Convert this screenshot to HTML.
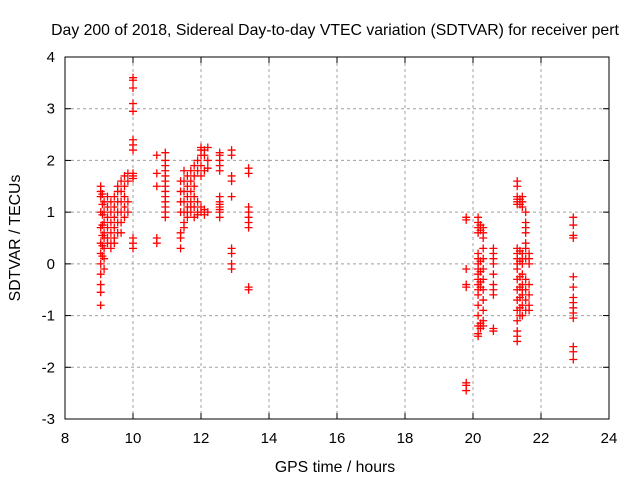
<!DOCTYPE html>
<html><head><meta charset="utf-8"><style>
body{margin:0;background:#fff;}
svg{display:block;font-family:"Liberation Sans",sans-serif;}
</style></head><body>
<svg id="chart" width="640" height="480">
<rect width="640" height="480" fill="#fff"/>
<text x="335" y="35" text-anchor="middle" font-size="15.8">Day 200 of 2018, Sidereal Day-to-day VTEC variation (SDTVAR) for receiver pert</text>
<text x="335" y="472" text-anchor="middle" font-size="15.8">GPS time / hours</text>
<text x="20" y="238" text-anchor="middle" font-size="15.8" transform="rotate(-90 20 238)">SDTVAR / TECUs</text>
<g id="grid"></g><g id="ticks"></g><g id="marks"></g>
<rect x="65" y="57" width="544" height="362" fill="none" stroke="#000"/>
</svg>
<script>
const xTicks=[8,10,12,14,16,18,20,22,24];
const yTicks=[-3,-2,-1,0,1,2,3,4];
const colHours=[9.05,9.1,9.15,9.25,9.35,9.45,9.55,9.65,9.75,9.85,10.0,10.7,10.95,11.4,11.5,11.6,11.7,11.8,11.9,12.0,12.1,12.2,12.55,12.9,13.4,19.8,20.15,20.22,20.3,20.6,21.3,21.38,21.45,21.55,21.65,22.95];
const colValues=[
[1.5,1.4,1.3,1.0,0.7,0.4,0.2,0.0,-0.2,-0.4,-0.55,-0.8],
[1.35,1.15,0.95,0.75,0.55,0.35,0.15],
[1.2,1.0,0.8,0.6,0.5,0.3,0.1,-0.1],
[1.3,1.1,0.9,0.7,0.5,0.4],
[1.2,1.0,0.8,0.6,0.4,0.3],
[1.3,1.1,0.9,0.7,0.5,0.4],
[1.5,1.4,1.2,1.0,0.8,0.6],
[1.6,1.4,1.2,1.0,0.8,0.6],
[1.7,1.5,1.3,1.1,0.9],
[1.75,1.6,1.2,1.0],
[3.6,3.55,3.4,3.1,2.95,2.4,2.3,2.2,1.75,1.7,1.65,0.5,0.4,0.3],
[2.1,1.75,1.5,0.5,0.4],
[2.15,2.0,1.9,1.8,1.7,1.6,1.5,1.4,1.3,1.2,1.1,1.0,0.9],
[1.6,1.4,1.2,1.0,0.6,0.5,0.3],
[1.8,1.6,1.4,1.2,1.0,0.8,0.7],
[1.7,1.5,1.3,1.1,0.9,1.0],
[1.8,1.6,1.4,1.2,1.0,1.1],
[1.9,1.7,1.5,1.3,1.1,0.9],
[2.0,1.8,1.2,1.0,0.95],
[2.25,2.2,2.1,1.9,1.7,1.1,1.0],
[2.2,2.1,1.8,1.05,0.95],
[2.25,2.0,1.85,1.0],
[2.15,2.1,2.0,1.9,1.8,1.3,1.2,1.15,1.1,1.05,1.0,0.9],
[2.2,2.1,1.7,1.6,1.3,0.3,0.2,0.0,-0.1],
[1.85,1.75,1.1,1.0,0.9,0.8,0.7,-0.45,-0.5],
[0.9,0.85,-0.1,-0.4,-0.45,-2.3,-2.35,-2.45],
[0.9,0.8,0.7,0.6,0.2,0.1,0.0,-0.1,-0.2,-0.3,-0.4,-0.5,-0.6,-0.8,-1.0,-1.2,-1.35,-1.4],
[0.75,0.65,0.05,-0.15,-0.35,-0.45,-1.15,-1.25],
[0.7,0.6,0.5,0.3,0.1,-0.1,-0.3,-0.5,-0.7,-0.9,-1.1,-1.2],
[0.3,0.2,0.1,0.0,-0.2,-0.4,-0.5,-0.6,-1.25,-1.3],
[1.6,1.5,1.3,1.25,1.2,1.15,0.3,0.2,0.1,0.0,-0.1,-0.3,-0.5,-0.7,-0.9,-1.1,-1.3,-1.4,-1.5],
[1.25,1.15,0.25,0.05,-0.25,-0.45,-0.65,-0.85,-1.0],
[1.3,1.2,1.1,0.2,0.1,0.0,-0.2,-0.4,-0.5,-0.6,-0.8,-1.0],
[1.0,0.8,0.7,0.6,0.4,0.3,0.1,-0.3,-0.5,-0.7,-0.9],
[0.2,0.1,0.0,-0.4,-0.6,-0.8,-0.9],
[0.9,0.75,0.55,0.5,-0.25,-0.45,-0.65,-0.75,-0.85,-0.95,-1.05,-1.6,-1.7,-1.85]
];
const NS="http://www.w3.org/2000/svg";
const X0=65,X1=609,Y0=419,Y1=57;
function xs(v){return X0+(v-8)/16*(X1-X0);}
function ys(v){return Y0-(v+3)/7*(Y0-Y1);}
function mk(tag,attrs,parent){const e=document.createElementNS(NS,tag);for(const k in attrs)e.setAttribute(k,attrs[k]);parent.appendChild(e);return e;}
const grid=document.getElementById('grid'),ticks=document.getElementById('ticks'),marks=document.getElementById('marks');
xTicks.forEach(t=>{
  const x=xs(t);
  if(t>8&&t<24){const g=mk('line',{x1:x,x2:x,y1:Y1,y2:Y0,stroke:'#a0a0a0','stroke-dasharray':'3,3'},grid);
  
  }
  mk('line',{x1:x,x2:x,y1:Y0,y2:Y0-6,stroke:'#000'},ticks);
  mk('line',{x1:x,x2:x,y1:Y1,y2:Y1+6,stroke:'#000'},ticks);
  const l=mk('text',{x:x,y:443,'text-anchor':'middle','font-size':'15'},ticks);
  l.textContent=t;
  
  
});
yTicks.forEach(t=>{
  const y=ys(t);
  if(t>-3&&t<4){const g=mk('line',{x1:X0,x2:X1,y1:y,y2:y,stroke:'#a0a0a0','stroke-dasharray':'3,3'},grid);
  
  }
  mk('line',{x1:X0,x2:X0+6,y1:y,y2:y,stroke:'#000'},ticks);
  mk('line',{x1:X1,x2:X1-6,y1:y,y2:y,stroke:'#000'},ticks);
  const l=mk('text',{x:55,y:y+5,'text-anchor':'end','font-size':'15'},ticks);
  l.textContent=t;
  
  
});
colHours.forEach((h,i)=>{
  colValues[i].forEach(v=>{
    const x=xs(h),y=ys(v);
    const p=mk('path',{d:`M${x-4},${y}h8M${x},${y-4}v8`,stroke:'#ff0000','stroke-width':'1.3',fill:'none'},marks);
    
    
  });
});
</script>
</body></html>
